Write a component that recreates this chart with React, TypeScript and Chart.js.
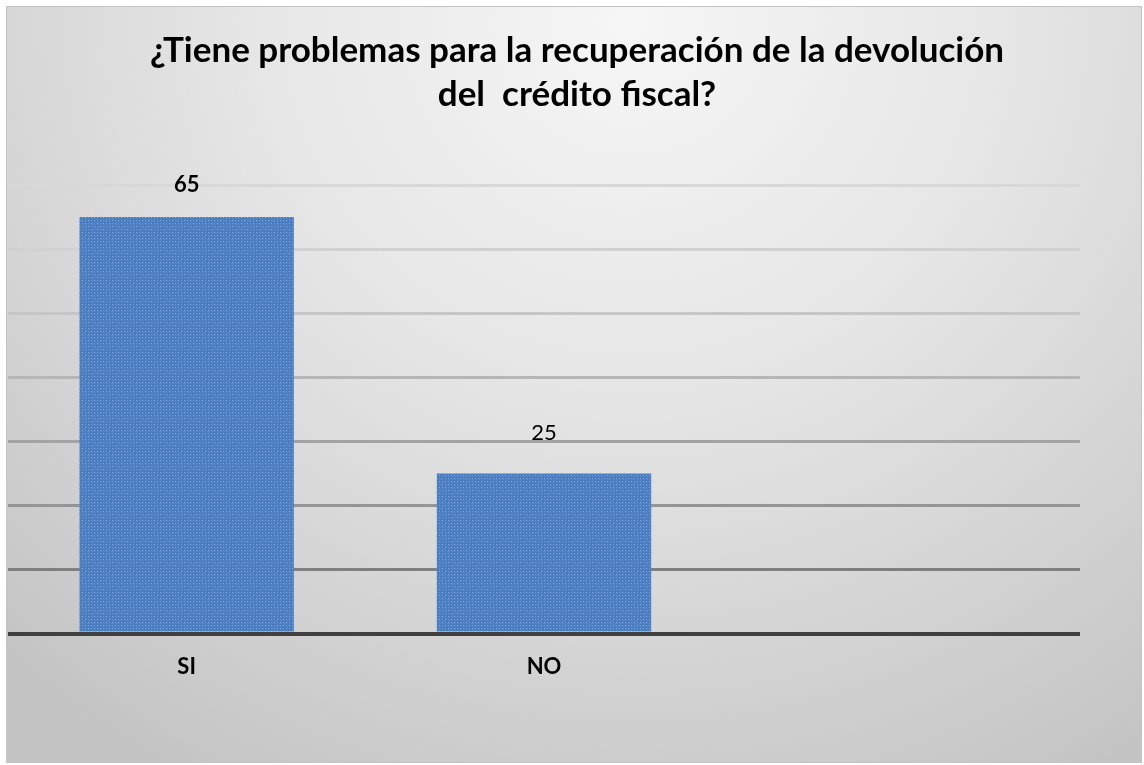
import React, { useEffect, useRef } from "react";
import { Chart, registerables } from "chart.js";

Chart.register(...registerables);

// ---- data ----
const categories: string[] = ["SI", "NO", ""];
const values: (number | null)[] = [65, 25, null];
const titleLines: string[] = [
  "¿Tiene problemas para la recuperación de la devolución",
  "del  crédito fiscal?",
];
const yMin = 0;
const yMax = 70;
const yStep = 10;
const gridColors: Record<number, string> = {
  0: "#404040",
  10: "#7f7f7f",
  20: "#959595",
  30: "#a3a3a3",
  40: "#b6b6b6",
  50: "#c6c6c6",
  60: "#d1d1d1",
  70: "#d8d8d8",
};
const labelBold: boolean[] = [true, false];
const labelOffset: number[] = [32, 40];

const FONT = "Lato, 'Open Sans', sans-serif";

function makePattern(): CanvasPattern | string {
  const c = document.createElement("canvas");
  c.width = 6;
  c.height = 6;
  const g = c.getContext("2d");
  if (!g) return "#4f81bd";
  g.fillStyle = "#4a7cc0";
  g.fillRect(0, 0, 6, 6);
  g.fillStyle = "#8aacdf";
  g.fillRect(0, 0, 1, 1);
  g.fillRect(3, 3, 1, 1);
  g.fillStyle = "#7098d2";
  g.fillRect(3, 0, 1, 1);
  g.fillRect(0, 3, 1, 1);
  g.fillStyle = "#5b89c9";
  g.fillRect(1, 1, 1, 1);
  g.fillRect(4, 4, 1, 1);
  g.fillRect(1, 4, 1, 1);
  g.fillRect(4, 1, 1, 1);
  const p = g.createPattern(c, "repeat");
  return p || "#4f81bd";
}

const titlePlugin = {
  id: "customTitle",
  afterDraw(chart: any) {
    const ctx = chart.ctx as CanvasRenderingContext2D;
    ctx.save();
    ctx.fillStyle = "#000000";
    ctx.font = `bold 35px ${FONT}`;
    ctx.textAlign = "center";
    ctx.textBaseline = "alphabetic";
    const cx = chart.width / 2 + 3;
    const baselines = [55, 99];
    titleLines.forEach((line, i) => ctx.fillText(line, cx, baselines[i]));
    ctx.restore();
  },
};

const dataLabelPlugin = {
  id: "dataLabels",
  afterDatasetsDraw(chart: any) {
    const ctx = chart.ctx as CanvasRenderingContext2D;
    const meta = chart.getDatasetMeta(0);
    ctx.save();
    ctx.fillStyle = "#000000";
    ctx.textAlign = "center";
    ctx.textBaseline = "middle";
    meta.data.forEach((bar: any, i: number) => {
      const v = values[i];
      if (v === null || v === undefined) return;
      ctx.font = `${labelBold[i] ? "bold " : ""}22px ${FONT}`;
      ctx.fillText(String(v), bar.x, bar.y - labelOffset[i]);
    });
    ctx.restore();
  },
};

export default function App() {
  const ref = useRef<HTMLCanvasElement | null>(null);

  useEffect(() => {
    document.body.style.margin = "0";
    if (!ref.current) return;
    const chart = new Chart(ref.current, {
      type: "bar",
      data: {
        labels: categories,
        datasets: [
          {
            data: values,
            backgroundColor: makePattern() as any,
            borderWidth: 0,
            categoryPercentage: 0.6,
            barPercentage: 1,
          },
        ],
      },
      options: {
        animation: false,
        responsive: false,
        layout: { padding: { left: 1, right: 61, top: 178, bottom: 62 } },
        plugins: {
          legend: { display: false },
          title: { display: false },
          tooltip: { enabled: false },
        },
        scales: {
          x: {
            grid: { display: false, drawTicks: false },
            border: { display: false },
            ticks: {
              padding: 20,
              color: "#000000",
              font: { family: FONT, size: 22, weight: "bold" },
            },
          },
          y: {
            min: yMin,
            max: yMax,
            ticks: { display: false, stepSize: yStep },
            border: { display: false },
            grid: {
              drawTicks: false,
              color: (ctx: any) => gridColors[ctx.tick?.value] || "#d9d9d9",
              lineWidth: (ctx: any) => (ctx.tick?.value === 0 ? 4 : 3),
            },
          },
        },
      },
      plugins: [titlePlugin, dataLabelPlugin],
    });
    return () => chart.destroy();
  }, []);

  return (
    <div
      style={{
        position: "absolute",
        left: 6,
        top: 6,
        width: 1136,
        height: 757,
        boxSizing: "border-box",
        border: "1px solid #c4c4c4",
        background:
          "radial-gradient(ellipse 80% 115% at 55% 2%, #f6f6f6 0%, #e6e6e6 42%, #d3d3d3 75%, #c4c4c4 100%)",
      }}
    >
      <canvas ref={ref} width={1134} height={755} style={{ display: "block" }} />
    </div>
  );
}
